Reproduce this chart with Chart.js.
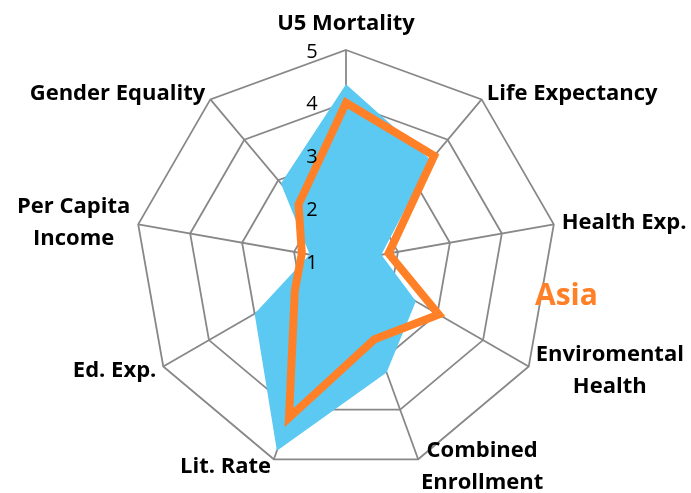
<!DOCTYPE html>
<html>
<head>
<meta charset="utf-8">
<script src="https://cdn.jsdelivr.net/npm/chart.js@4"></script>
<style>
  html, body { margin: 0; padding: 0; background: #fff; }
  #wrap { width: 691px; height: 493px; position: relative; }
</style>
</head>
<body>
<div id="wrap"><canvas id="radar"></canvas></div>
<script>
const categories = [
  ["U5 Mortality"],
  ["Life Expectancy"],
  ["Health Exp."],
  ["Enviromental", "Health"],
  ["Combined", "Enrollment"],
  ["Lit. Rate"],
  ["Ed. Exp."],
  ["Per Capita", "Income"],
  ["Gender Equality"]
];
const blueValues = [4.35, 3.5, 1.68, 2.53, 3.25, 4.83, 3.0, 1.7, 2.92];
const asiaValues = [4.0, 3.6, 1.82, 3.03, 2.58, 4.16, 2.12, 1.85, 2.4];
const tickValues = [1, 2, 3, 4, 5];
const seriesName = "Asia";

const FONT = "'Open Sans', Lato, sans-serif";

// tick numbers, category labels and the "Asia" caption, drawn over the data like Excel does
const labelPlugin = {
  id: "labels",
  afterDatasetsDraw(chart) {
    const ctx = chart.ctx;
    const scale = chart.scales.r;
    ctx.save();
    ctx.fillStyle = "#000";

    ctx.font = "20px " + FONT;
    ctx.textAlign = "center";
    ctx.textBaseline = "middle";
    tickValues.forEach(v => {
      const d = scale.getDistanceFromCenterForValue(v);
      ctx.fillText(String(v), scale.xCenter - 34, scale.yCenter - d + 2);
    });

    ctx.font = "bold 22px " + FONT;
    const lh = 32;
    categories.forEach((lines, i) => {
      const p = scale.getPointPosition(i, scale.drawingArea + 8);
      const ang = i * 360 / categories.length;
      const w = Math.max(...lines.map(l => ctx.measureText(l).width));
      const h = lines.length * lh;
      let cx, top;
      if (ang === 0) {
        cx = p.x;
        top = p.y - 2 - h;
      } else if (ang < 180) {
        cx = p.x + w / 2;
        top = p.y - h / 2;
      } else {
        cx = p.x - w / 2;
        top = p.y - h / 2;
      }
      lines.forEach((l, k) => ctx.fillText(l, cx, top + lh * k + lh / 2));
    });

    ctx.font = "bold 30px " + FONT;
    ctx.fillStyle = "#FF8026";
    ctx.textAlign = "left";
    ctx.textBaseline = "alphabetic";
    ctx.fillText(seriesName, 535, 305);
    ctx.restore();
  }
};

new Chart(document.getElementById("radar"), {
  type: "radar",
  data: {
    labels: categories,
    datasets: [
      {
        label: "Region",
        data: blueValues,
        backgroundColor: "#5BC9F1",
        borderWidth: 0,
        fill: true,
        pointRadius: 0,
        order: 2
      },
      {
        label: seriesName,
        data: asiaValues,
        borderColor: "#FF8026",
        backgroundColor: "rgba(0,0,0,0)",
        borderWidth: 8,
        borderJoinStyle: "miter",
        fill: false,
        pointRadius: 0,
        order: 1
      }
    ]
  },
  options: {
    responsive: true,
    maintainAspectRatio: false,
    animation: false,
    layout: { padding: { left: 124, right: 123, top: 50, bottom: 21 } },
    plugins: { legend: { display: false }, tooltip: { enabled: false } },
    scales: {
      r: {
        min: 1,
        max: 5,
        ticks: { stepSize: 1, display: false },
        grid: { color: "#888888", lineWidth: 1.8 },
        angleLines: { color: "#888888", lineWidth: 1.8 },
        pointLabels: { display: false }
      }
    }
  },
  plugins: [labelPlugin]
});
</script>
</body>
</html>
